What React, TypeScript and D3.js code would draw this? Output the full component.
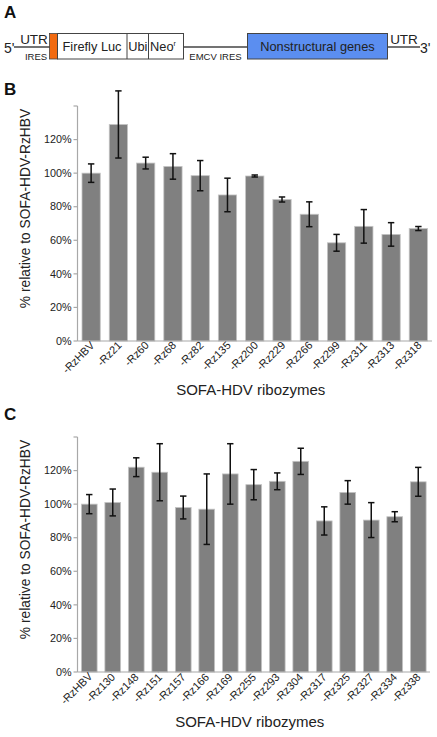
import React from 'react';
import * as d3 from 'd3';

const catsB = ['-RzHBV', '-Rz21', '-Rz60', '-Rz68', '-Rz82', '-Rz135', '-Rz200', '-Rz229', '-Rz266', '-Rz299', '-Rz311', '-Rz313', '-Rz318'];
const valsB = [100, 129, 106, 104, 98.5, 87, 98.3, 84.3, 75.5, 58.5, 68.3, 63.5, 67];
const errB = [5.5, 20, 3.5, 7.6, 9, 10, 0.6, 1.5, 7.4, 5, 10, 7, 1.2];

const catsC = ['-RzHBV', '-Rz130', '-Rz148', '-Rz151', '-Rz157', '-Rz166', '-Rz169', '-Rz255', '-Rz293', '-Rz304', '-Rz317', '-Rz325', '-Rz327', '-Rz334', '-Rz338'];
const valsC = [100, 101, 122, 119, 98, 97, 118, 111.6, 113.6, 125.5, 90, 107, 90.5, 92.5, 113.3];
const errC = [5.7, 8, 5.6, 17, 6.8, 21, 18, 9, 5, 7.8, 8.4, 7, 10.4, 3, 8.6];

const yTicks = [0, 20, 40, 60, 80, 100, 120, 140];
const yTitle = '% relative to SOFA-HDV-RzHBV';
const xTitle = 'SOFA-HDV ribozymes';

const FONT = '"Liberation Sans", Arial, sans-serif';
const AXIS = '#a8a8a8';
const BAR = '#808080';

type PanelProps = {
  letter: string;
  letterY: number;
  cats: string[];
  vals: number[];
  errs: number[];
  yTop: number;
  yBottom: number;
  xLeft: number;
  xRight: number;
  xTitleY: number;
  mark: boolean;
};

function Panel(p: PanelProps) {
  const y = d3.scaleLinear().domain([0, 140]).range([p.yBottom, p.yTop]);
  const x = d3.scaleBand<string>().domain(p.cats).range([p.xLeft, p.xRight]).paddingInner(0.33).paddingOuter(0.165);
  const bw = x.bandwidth();
  const fmt = (v: number) => `${v}%`;
  return (
    <g fontFamily={FONT}>
      <text x={4} y={p.letterY} fontSize={17} fontWeight="bold" fill="#111">{p.letter}</text>
      <text
        transform={`translate(${30},${(p.yTop + p.yBottom) / 2 - 15}) rotate(-90)`}
        textAnchor="middle"
        fontSize={13.8}
        fill="#222"
      >{yTitle}</text>
      <line x1={p.xLeft} x2={p.xLeft} y1={y(140)} y2={y(0)} stroke={AXIS} strokeWidth={1.2} />
      {yTicks.map(t => (
        <g key={t}>
          <line x1={p.xLeft - 4} x2={p.xLeft} y1={y(t)} y2={y(t)} stroke={AXIS} strokeWidth={1.2} />
          {t < 140 && (
            <text x={p.xLeft - 6} y={y(t)} dy="0.35em" textAnchor="end" fontSize={10.8} fill="#222">{fmt(t)}</text>
          )}
        </g>
      ))}
      {p.cats.map((c, i) => (
        <rect key={c} x={x(c)!} y={y(p.vals[i])} width={bw} height={y(0) - y(p.vals[i])}
          fill={BAR} stroke="#c4c4c4" strokeWidth={0.8} />
      ))}
      <line x1={p.xLeft} x2={p.xRight} y1={y(0)} y2={y(0)} stroke={AXIS} strokeWidth={1.2} />
      {p.cats.map((c, i) => {
        const cx = x(c)! + bw / 2;
        const hi = y(p.vals[i] + p.errs[i]);
        const lo = y(p.vals[i] - p.errs[i]);
        return (
          <g key={c + 'e'} stroke="#111" strokeWidth={1.5}>
            <line x1={cx} x2={cx} y1={hi} y2={lo} />
            <line x1={cx - 3.2} x2={cx + 3.2} y1={hi} y2={hi} />
            <line x1={cx - 3.2} x2={cx + 3.2} y1={lo} y2={lo} />
          </g>
        );
      })}
      {p.cats.map((c, i) => {
        const cx = x(c)! + bw / 2 + 4;
        return (
          <text key={c + 'l'} transform={`translate(${cx},${y(0) + 5}) rotate(-45)`} textAnchor="end" fontSize={11} fill="#222">
            {c}
            {p.mark && i > 0 && <tspan fontSize={6} dy={-4} fill="#888">′</tspan>}
          </text>
        );
      })}
      <text x={(p.xLeft + p.xRight) / 2 - 4} y={p.xTitleY} textAnchor="middle" fontSize={15} fill="#222">{xTitle}</text>
    </g>
  );
}

function Diagram() {
  const ly = 47;
  const top = 33.5;
  const bot = 59;
  return (
    <g fontFamily={FONT} fill="#222">
      <text x={4} y={18} fontSize={17} fontWeight="bold" fill="#111">A</text>
      <text x={4} y={53} fontSize={14}>5'</text>
      <line x1={14} x2={50} y1={ly} y2={ly} stroke="#444" strokeWidth={1.3} />
      <text x={34} y={44} fontSize={13.5} textAnchor="middle">UTR</text>
      <text x={36} y={60} fontSize={9.5} textAnchor="middle">IRES</text>
      <rect x={49.5} y={top} width={8} height={bot - top} fill="#f26a10" stroke="#444" strokeWidth={0.8} />
      <rect x={57.5} y={top} width={126} height={bot - top} fill="#fff" stroke="#444" strokeWidth={1} />
      <line x1={127} x2={127} y1={top} y2={bot} stroke="#444" strokeWidth={1} />
      <line x1={148.5} x2={148.5} y1={top} y2={bot} stroke="#444" strokeWidth={1} />
      <text x={92} y={51} fontSize={12.8} textAnchor="middle">Firefly Luc</text>
      <text x={137.8} y={51} fontSize={12.8} textAnchor="middle">Ubi</text>
      <text x={163} y={51} fontSize={12.8} textAnchor="middle">Neo<tspan fontSize={7} dy={-5}>r</tspan></text>
      <line x1={183.5} x2={247.5} y1={ly} y2={ly} stroke="#444" strokeWidth={1.3} />
      <text x={215.5} y={60} fontSize={9.5} textAnchor="middle">EMCV IRES</text>
      <rect x={247.5} y={top} width={140} height={bot - top} fill="#5b8ef0" stroke="#444" strokeWidth={1} />
      <text x={317.5} y={51} fontSize={12.8} textAnchor="middle">Nonstructural genes</text>
      <line x1={387.5} x2={420} y1={ly} y2={ly} stroke="#444" strokeWidth={1.3} />
      <text x={404} y={44} fontSize={13.5} textAnchor="middle">UTR</text>
      <text x={420} y={53} fontSize={14}>3'</text>
    </g>
  );
}

export default function App() {
  return (
    <svg width={437} height={737} style={{ position: 'absolute', left: 0, top: 0, background: '#fff' }}>
      <rect width={437} height={737} fill="#fff" />
      <Diagram />
      <Panel letter="B" letterY={95} cats={catsB} vals={valsB} errs={errB}
        yTop={106} yBottom={341} xLeft={77.5} xRight={432} xTitleY={395} mark={false} />
      <Panel letter="C" letterY={420} cats={catsC} vals={valsC} errs={errC}
        yTop={437} yBottom={672} xLeft={77.5} xRight={430} xTitleY={727} mark={true} />
    </svg>
  );
}
